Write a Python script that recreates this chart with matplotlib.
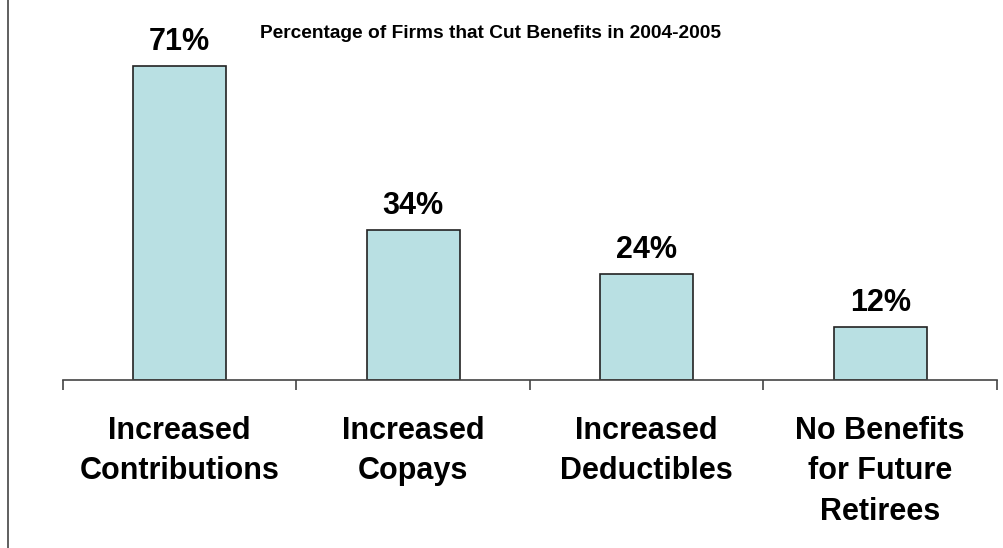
import matplotlib
matplotlib.use("Agg")
import matplotlib.pyplot as plt
from matplotlib.lines import Line2D

categories = ["Increased\nContributions", "Increased\nCopays",
              "Increased\nDeductibles", "No Benefits\nfor Future\nRetirees"]
values = [71, 34, 24, 12]
value_labels = ["71%", "34%", "24%", "12%"]
title = "Percentage of Firms that Cut Benefits in 2004-2005"

plt.rcParams['font.family'] = ['Liberation Sans', 'DejaVu Sans']

W, H = 1004, 548
fig = plt.figure(figsize=(W / 100, H / 100), dpi=100)
x0, x1, ybase = 63, 997, 380
ax = fig.add_axes([x0 / W, (H - ybase) / H, (x1 - x0) / W, ybase / H])

n = len(values)
pos = list(range(n))
ax.bar(pos, values, width=0.4, color="#B9E0E3", edgecolor="#222222", linewidth=1.2, zorder=2)
ax.set_xlim(-0.5, n - 0.5)
px_per_unit = (380 - 66) / 71
ax.set_ylim(0, ybase / px_per_unit)

for p, v, lab in zip(pos, values, value_labels):
    ax.annotate(lab, (p, v), xytext=(0, 11.5), textcoords="offset points",
                ha="center", va="baseline", fontsize=22, fontweight="bold")

ax.set_xticks([i - 0.5 for i in range(n + 1)])
ax.set_xticklabels([])
ax.set_xticks(pos, minor=True)
ax.set_xticklabels(categories, minor=True, fontsize=22, fontweight="bold", linespacing=1.45)
ax.tick_params(axis="x", which="major", direction="out", length=7.5, width=1.2, color="#444444")
ax.tick_params(axis="x", which="minor", length=0, pad=26)
ax.set_yticks([])
for s in ["left", "right", "top"]:
    ax.spines[s].set_visible(False)
ax.spines["bottom"].set_color("#444444")
ax.spines["bottom"].set_linewidth(1.2)

fig.text(491 / W, 1 - 33 / H, title, ha="center", va="center", fontsize=13.8, fontweight="bold")

fig.add_artist(Line2D([8.5 / W, 8.5 / W], [0, 1], transform=fig.transFigure, color="#444444", linewidth=1.2))

fig.savefig("out.png", dpi=100)
